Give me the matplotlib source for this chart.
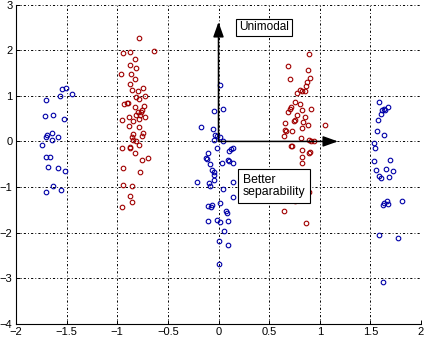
import matplotlib
matplotlib.use("Agg")
import matplotlib.pyplot as plt
from matplotlib.patches import FancyArrowPatch

plt.rcParams['font.family'] = ['Liberation Sans', 'DejaVu Sans']

# Blue cluster, left
blue_left_x = [-1.55, -1.51, -1.57, -1.45, -1.70, -1.71, -1.63, -1.53, -1.69, -1.70, -1.64, -1.59,
               -1.64, -1.74, -1.70, -1.66, -1.68, -1.59, -1.52, -1.63, -1.70, -1.56]
blue_left_y = [1.16, 1.18, 0.99, 1.03, 0.90, 0.55, 0.57, 0.50, 0.15, 0.10, 0.18, 0.10,
               0.04, -0.07, -0.34, -0.34, -0.57, -0.59, -0.64, -0.98, -1.10, -1.07]

# Red cluster, left
red_left_x = [-0.79, -0.94, -0.87, -0.64, -0.82, -0.87, -0.81, -0.96, -0.86, -0.82, -0.87, -0.75,
              -0.85, -0.80, -0.81, -0.73, -0.79, -0.93, -0.89, -0.90, -0.74, -0.82, -0.76, -0.80,
              -0.77, -0.81, -0.78, -0.73, -0.88, -0.95, -0.79, -0.84, -0.88, -0.79, -0.84, -0.75,
              -0.76, -0.85, -0.84, -0.81, -0.79, -0.95, -0.87, -0.87, -0.82, -0.70, -0.76, -0.94,
              -0.78, -0.94, -0.85, -0.87, -0.85, -0.95]
red_left_y = [2.26, 1.95, 1.97, 1.98, 1.80, 1.67, 1.62, 1.48, 1.48, 1.36, 1.27, 1.18,
              1.12, 1.10, 0.98, 1.00, 0.93, 0.82, 0.85, 0.85, 0.78, 0.75, 0.70, 0.65,
              0.64, 0.58, 0.58, 0.54, 0.54, 0.48, 0.50, 0.45, 0.34, 0.32, 0.17, 0.18,
              0.12, 0.09, 0.04, 0.00, -0.07, -0.15, -0.14, -0.12, -0.26, -0.36, -0.40, -0.59,
              -0.68, -0.96, -0.98, -1.20, -1.34, -1.45]

# Blue cluster, centre
blue_mid_x = [0.01, 0.04, -0.04, -0.17, -0.05, -0.03, -0.01, -0.04, 0.01, 0.04, -0.01, 0.14,
              0.10, 0.12, -0.10, -0.11, -0.12, 0.09, 0.10, 0.14, 0.03, -0.08, -0.06, -0.04,
              -0.04, -0.21, -0.09, -0.08, -0.04, 0.04, 0.14, 0.14, 0.01, -0.10, -0.06, -0.07,
              0.07, 0.08, -0.10, -0.01, 0.01, 0.09, 0.05, 0.00, 0.09, 0.00]
blue_mid_y = [1.23, 0.72, 0.66, 0.31, 0.27, 0.15, 0.12, 0.03, 0.09, 0.01, -0.14, -0.15,
              -0.20, -0.17, -0.26, -0.39, -0.36, -0.41, -0.43, -0.48, -0.47, -0.50, -0.63, -0.67,
              -0.74, -0.90, -0.92, -0.98, -0.85, -1.05, -0.89, -1.23, -1.35, -1.42, -1.40, -1.45,
              -1.52, -1.57, -1.75, -1.73, -1.76, -1.74, -1.96, -2.18, -2.27, -2.69]

# Red cluster, right
red_right_x = [0.89, 0.69, 0.88, 0.71, 0.90, 0.87, 0.86, 0.80, 0.82, 0.85, 0.78, 0.76,
               0.80, 0.72, 0.71, 0.82, 0.91, 0.69, 0.78, 0.85, 0.76, 0.75, 0.66, 0.83,
               0.88, 1.05, 0.82, 0.66, 0.67, 0.73, 0.65, 0.81, 0.89, 0.94, 0.91, 0.72,
               0.73, 0.82, 0.89, 0.90, 0.82, 0.82, 0.78, 0.75, 0.89, 0.76, 0.65, 0.86]
red_right_y = [1.91, 1.65, 1.56, 1.38, 1.40, 1.31, 1.21, 1.12, 1.10, 1.11, 1.07, 0.87,
               0.82, 0.76, 0.72, 0.70, 0.72, 0.65, 0.58, 0.53, 0.47, 0.44, 0.41, 0.42,
               0.35, 0.35, 0.29, 0.26, 0.23, 0.22, 0.12, 0.07, 0.03, 0.01, 0.00, -0.09,
               -0.11, -0.19, -0.25, -0.23, -0.35, -0.48, -0.85, -0.94, -1.10, -1.30, -1.53, -1.78]

# Blue cluster, right
blue_right_x = [1.59, 1.61, 1.63, 1.67, 1.64, 1.60, 1.58, 1.57, 1.63, 1.54, 1.55, 1.54,
                1.69, 1.56, 1.65, 1.72, 1.59, 1.60, 1.68, 1.62, 1.63, 1.66, 1.67, 1.81,
                1.59, 1.77, 1.62]
blue_right_y = [0.87, 0.70, 0.72, 0.75, 0.69, 0.61, 0.47, 0.23, 0.14, -0.04, -0.14, -0.43,
                -0.41, -0.63, -0.61, -0.65, -0.76, -0.80, -0.78, -1.40, -1.35, -1.30, -1.38, -1.31,
                -2.05, -2.11, -3.09]

x_ticks = [-2, -1.5, -1, -0.5, 0, 0.5, 1, 1.5, 2]
x_labels = ['\u22122', '\u22121.5', '\u22121', '\u22120.5', '0', '0.5', '1', '1.5', '2']
y_ticks = [-4, -3, -2, -1, 0, 1, 2, 3]
y_labels = ['\u22124', '\u22123', '\u22122', '\u22121', '0', '1', '2', '3']

BLUE = '#0000a8'
RED = '#a00000'

fig = plt.figure(figsize=(4.24, 3.38), dpi=100)
ax = fig.add_axes([16/424, 1 - 323.7/338, (421 - 16)/424, (323.7 - 4.7)/338])

mk = dict(marker='o', linestyle='none', markerfacecolor='none', markersize=3.3, markeredgewidth=0.8)
for xs, ys, c in [(blue_left_x, blue_left_y, BLUE), (red_left_x, red_left_y, RED),
                  (blue_mid_x, blue_mid_y, BLUE), (red_right_x, red_right_y, RED),
                  (blue_right_x, blue_right_y, BLUE)]:
    ax.plot(xs, ys, markeredgecolor=c, **mk)

ax.set_xlim(-2, 2)
ax.set_ylim(-4, 3)
ax.set_xticks(x_ticks)
ax.set_xticklabels(x_labels)
ax.set_yticks(y_ticks)
ax.set_yticklabels(y_labels)
ax.tick_params(direction='in', length=3, width=0.7, labelsize=8, pad=2.5)
ax.grid(True, color='black', linewidth=0.7, linestyle=(0, (2.2, 2.2, 0.9, 2.2)))
ax.set_axisbelow(True)
for s in ['top', 'right']:
    ax.spines[s].set_visible(False)
for s in ['left', 'bottom']:
    ax.spines[s].set_linewidth(0.8)

# Arrows
arrow_kw = dict(arrowstyle='-|>,head_length=0.9,head_width=0.32', mutation_scale=10,
                color='black', linewidth=1.1, shrinkA=0, shrinkB=0, zorder=5)
ax.add_patch(FancyArrowPatch((0, 0), (0, 2.62), **arrow_kw))
ax.add_patch(FancyArrowPatch((0, 0), (1.18, 0), **arrow_kw))

box1 = dict(boxstyle='square,pad=0.25', facecolor='white', edgecolor='black', linewidth=0.8)
ax.text(0.2, 2.5, 'Unimodal', fontsize=8.5, ha='left', va='center', bbox=box1, zorder=6)
box2 = dict(boxstyle='square,pad=0.4', facecolor='white', edgecolor='black', linewidth=0.8)
ax.text(0.24, -0.98, 'Better\nseparability', fontsize=8.8, ha='left', va='center',
        bbox=box2, zorder=6, linespacing=1.05)

fig.savefig('out.png', dpi=100)
